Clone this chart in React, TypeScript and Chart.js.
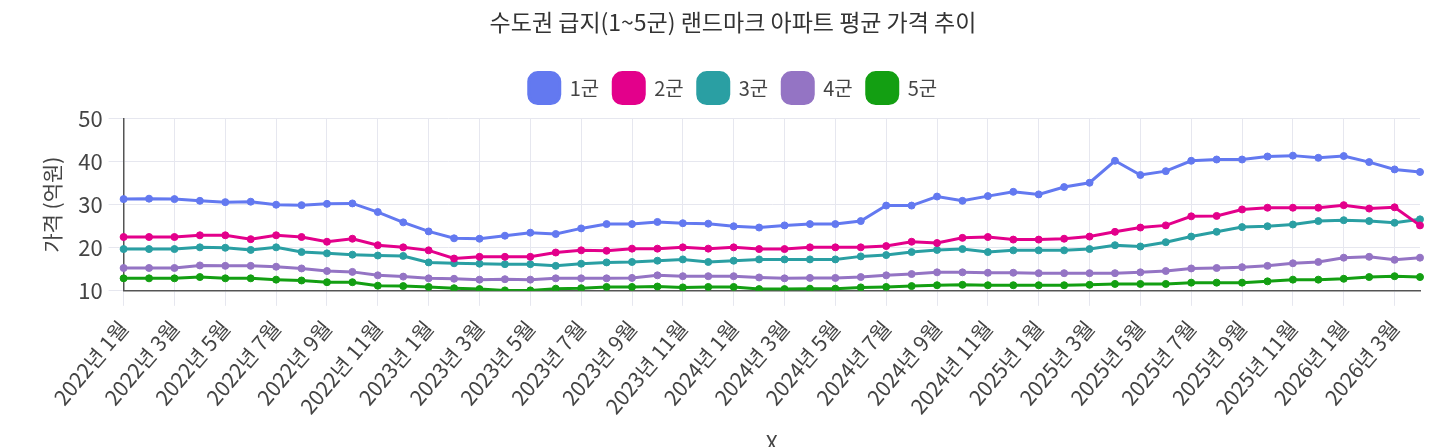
import { useEffect, useRef } from 'react';
import { Chart, registerables } from 'chart.js';

Chart.register(...registerables);

const FONT = '"Noto Sans CJK KR", "Noto Sans", sans-serif';

// 2022년 1월 ~ 2026년 4월 (monthly)
const months: string[] = [];
for (let y = 2022; y <= 2026; y++) {
  for (let m = 1; m <= 12; m++) {
    if (y === 2026 && m > 4) break;
    months.push(`${y}년 ${m}월`);
  }
}

const group1 = [
  31.3, 31.4, 31.3, 30.9, 30.6, 30.7, 30.0, 29.9, 30.2, 30.3, 28.3, 25.9,
  23.8, 22.2, 22.1, 22.8, 23.5, 23.2, 24.5, 25.5, 25.5, 26.0, 25.7, 25.6,
  25.0, 24.7, 25.2, 25.5, 25.5, 26.2, 29.8, 29.8, 31.9, 30.9, 32.0, 33.0,
  32.4, 34.1, 35.1, 40.2, 36.9, 37.8, 40.2, 40.5, 40.5, 41.2, 41.4, 40.9,
  41.3, 39.9, 38.2, 37.6,
];
const group2 = [
  22.5, 22.5, 22.5, 22.9, 22.9, 22.0, 22.9, 22.5, 21.4, 22.1, 20.6, 20.1,
  19.4, 17.5, 17.9, 17.9, 17.9, 18.9, 19.4, 19.3, 19.8, 19.8, 20.1, 19.8,
  20.1, 19.7, 19.7, 20.1, 20.1, 20.1, 20.4, 21.4, 21.1, 22.3, 22.5, 21.9,
  21.9, 22.1, 22.6, 23.7, 24.7, 25.2, 27.3, 27.4, 28.9, 29.3, 29.3, 29.3,
  29.9, 29.1, 29.4, 25.2,
];
const group3 = [
  19.7, 19.7, 19.7, 20.1, 20.0, 19.5, 20.1, 19.0, 18.7, 18.4, 18.2, 18.1,
  16.6, 16.4, 16.3, 16.2, 16.2, 15.8, 16.3, 16.6, 16.7, 17.0, 17.3, 16.7,
  17.0, 17.3, 17.3, 17.3, 17.3, 18.0, 18.3, 19.0, 19.5, 19.7, 19.0, 19.4,
  19.4, 19.4, 19.7, 20.6, 20.3, 21.3, 22.6, 23.7, 24.8, 25.0, 25.4, 26.2,
  26.4, 26.2, 25.8, 26.6,
];
const group4 = [
  15.3, 15.3, 15.3, 15.9, 15.8, 15.8, 15.6, 15.2, 14.6, 14.4, 13.6, 13.3,
  12.9, 12.8, 12.6, 12.7, 12.6, 12.9, 12.9, 12.9, 13.0, 13.6, 13.4, 13.4,
  13.4, 13.1, 12.9, 13.0, 13.0, 13.2, 13.6, 13.9, 14.3, 14.3, 14.2, 14.2,
  14.1, 14.1, 14.1, 14.1, 14.3, 14.6, 15.2, 15.3, 15.5, 15.8, 16.4, 16.7,
  17.7, 17.9, 17.2, 17.7,
];
const group5 = [
  12.9, 12.9, 12.9, 13.2, 12.9, 12.9, 12.6, 12.4, 12.0, 12.0, 11.2, 11.1,
  10.9, 10.6, 10.4, 10.1, 10.1, 10.5, 10.6, 10.9, 10.9, 11.0, 10.8, 10.9,
  10.9, 10.4, 10.4, 10.5, 10.5, 10.8, 10.9, 11.1, 11.3, 11.4, 11.3, 11.3,
  11.3, 11.3, 11.4, 11.6, 11.6, 11.6, 11.9, 11.9, 11.9, 12.2, 12.6, 12.6,
  12.8, 13.2, 13.4, 13.2,
];

const seriesNames = ['1군', '2군', '3군', '4군', '5군'];
const seriesColors = ['#6379f0', '#e3008b', '#2a9fa3', '#9474c4', '#139f12'];
const seriesData = [group1, group2, group3, group4, group5];

const yTicks = [10, 20, 30, 40, 50];

// a bit more room between the legend and the plot
const legendGap = {
  id: 'legendGap',
  beforeInit(chart: any) {
    const fit = chart.legend.fit;
    chart.legend.fit = function () {
      fit.bind(chart.legend)();
      this.height += 5;
    };
  },
};

export default function App() {
  const canvasRef = useRef<HTMLCanvasElement>(null);
  const chartRef = useRef<Chart | null>(null);

  useEffect(() => {
    if (!canvasRef.current) return;
    if (chartRef.current) chartRef.current.destroy();

    chartRef.current = new Chart(canvasRef.current, {
      type: 'line',
      data: {
        labels: months,
        datasets: seriesNames.map((name, i) => ({
          label: name,
          data: seriesData[i],
          borderColor: seriesColors[i],
          backgroundColor: seriesColors[i],
          borderWidth: 3,
          pointRadius: 3.5,
          pointBorderWidth: 1,
          tension: 0,
        })),
      },
      plugins: [legendGap],
      options: {
        animation: false,
        responsive: true,
        maintainAspectRatio: false,
        layout: { padding: { left: 38, right: 8 } },
        plugins: {
          title: {
            display: true,
            text: '수도권 급지(1~5군) 랜드마크 아파트 평균 가격 추이',
            color: '#333',
            font: { family: FONT, size: 23, weight: 'normal' },
            padding: { top: 0, bottom: 23 },
          },
          legend: {
            position: 'top',
            labels: {
              color: '#444',
              font: { family: FONT, size: 20 },
              boxWidth: 31,
              boxHeight: 31,
              useBorderRadius: true,
              borderRadius: 9,
              padding: 14,
            },
          },
        },
        scales: {
          x: {
            title: {
              display: true,
              text: 'X',
              color: '#444',
              font: { family: FONT, size: 21 },
              padding: { top: 2, bottom: 4 },
            },
            ticks: {
              color: '#444',
              font: { family: FONT, size: 21 },
              maxRotation: 50,
              minRotation: 50,
              autoSkip: false,
              padding: 10,
              callback: (_v, i) => (i % 2 === 0 ? months[i] : null),
            },
            grid: { color: '#e6e7ef', tickLength: 15 },
            border: { color: '#555', width: 1.5 },
          },
          y: {
            min: 10,
            max: 50,
            afterBuildTicks: (axis) => {
              axis.ticks = yTicks.map((v) => ({ value: v }));
            },
            title: {
              display: true,
              text: '가격 (억원)',
              color: '#444',
              font: { family: FONT, size: 21 },
              padding: { top: -7, bottom: 8 },
            },
            ticks: {
              color: '#444',
              font: { family: FONT, size: 22 },
              padding: 6,
            },
            grid: { color: '#e6e7ef', tickLength: 15 },
            border: { color: '#555', width: 1.5 },
          },
        },
      },
    });

    return () => {
      if (chartRef.current) {
        chartRef.current.destroy();
        chartRef.current = null;
      }
    };
  }, []);

  return (
    <div style={{ position: 'relative', width: '100%', height: 452 }}>
      <canvas ref={canvasRef} />
    </div>
  );
}
